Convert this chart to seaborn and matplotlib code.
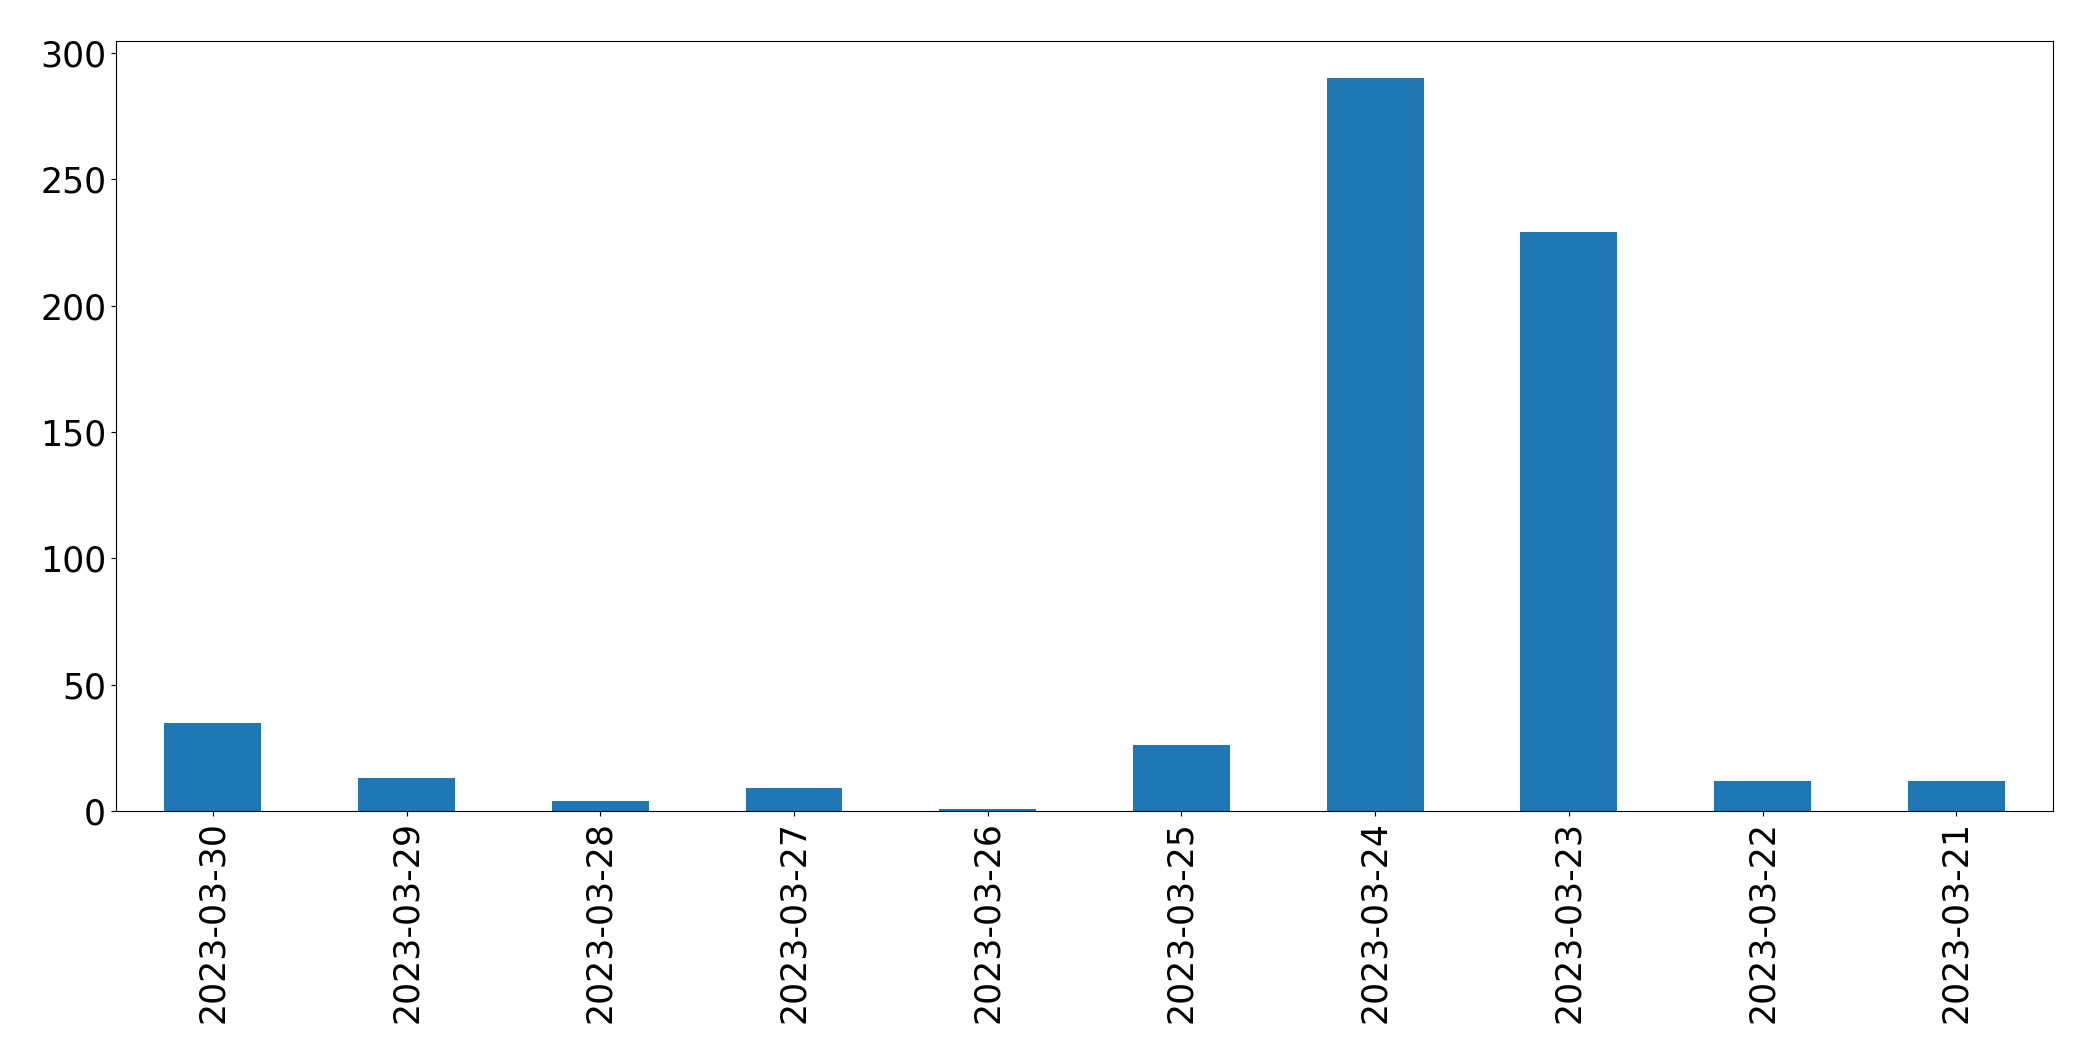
import pandas as pd
import matplotlib
matplotlib.use("Agg")
import matplotlib.pyplot as plt
import seaborn as sns

dates = ["2023-03-30", "2023-03-29", "2023-03-28", "2023-03-27", "2023-03-26",
         "2023-03-25", "2023-03-24", "2023-03-23", "2023-03-22", "2023-03-21"]
counts = [35, 13, 4, 9, 1, 26, 290, 229, 12, 12]

df = pd.DataFrame({"date": dates, "count": counts})

fig = plt.figure(figsize=(20.93, 10.63), dpi=100)
ax = fig.add_axes([0.0554, 0.237, 0.9256, 0.724])
sns.barplot(x="date", y="count", data=df, color="#1f77b4", saturation=1,
            width=0.5, order=dates, linewidth=0, ax=ax)
ax.set_xlabel("")
ax.set_ylabel("")
ax.tick_params(axis="both", labelsize=25)
ax.tick_params(axis="x", labelrotation=90)
ax.set_xlim(-0.5, len(dates) - 0.5)
ax.set_ylim(0, 304.5)
for s in ax.spines.values():
    s.set_visible(True)
fig.savefig("out.png", dpi=100)
